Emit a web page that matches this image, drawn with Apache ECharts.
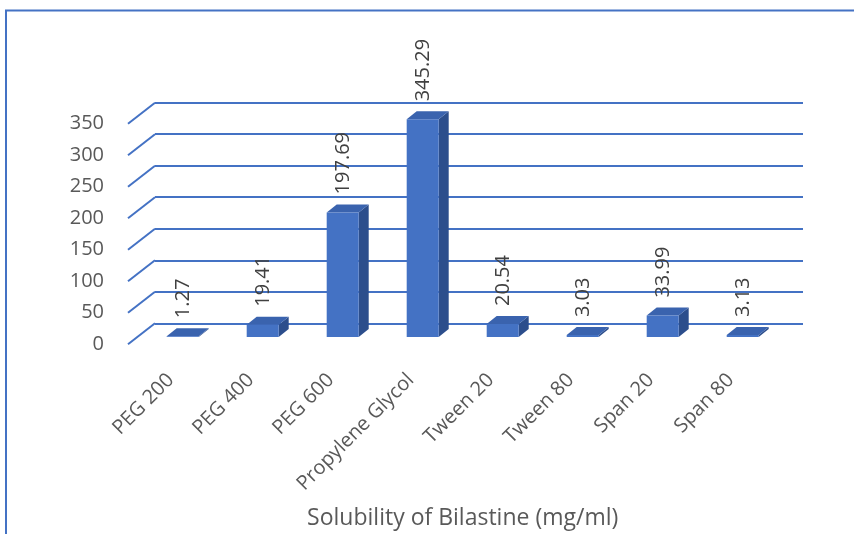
<!DOCTYPE html>
<html>
<head>
<meta charset="utf-8">
<script src="https://cdn.jsdelivr.net/npm/echarts@6/dist/echarts.min.js"></script>
<style>html,body{margin:0;padding:0;background:#fff}#c{width:854px;height:534px}</style>
</head>
<body>
<div id="c"></div>
<script>
var categories = ['PEG 200', 'PEG 400', 'PEG 600', 'Propylene Glycol', 'Tween 20', 'Tween 80', 'Span 20', 'Span 80'];
var solubility = [1.27, 19.41, 197.69, 345.29, 20.54, 3.03, 33.99, 3.13];
var yTicks = [0, 50, 100, 150, 200, 250, 300, 350];
var axisTitle = 'Solubility of Bilastine (mg/ml)';

var BLUE = '#4472C4';
var DEPTH_X = 10, DEPTH_Y = -8, BAR_W = 32;
var DIAG_X = -27, DIAG_Y = 21;

var chart = echarts.init(document.getElementById('c'), null, {renderer: 'canvas'});

function bar3d(params, api) {
  var top = api.coord([api.value(0), api.value(1)]);
  var base = api.coord([api.value(0), 0]);
  var cx = top[0], ty = top[1], by = base[1];
  var l = cx - BAR_W / 2, r = cx + BAR_W / 2;
  return {
    type: 'group',
    children: [
      {type: 'polygon', shape: {points: [[r, ty], [r + DEPTH_X, ty + DEPTH_Y], [r + DEPTH_X, by + DEPTH_Y], [r, by]]},
        style: {fill: '#2C4E8C'}},
      {type: 'polygon', shape: {points: [[l, ty], [l + DEPTH_X, ty + DEPTH_Y], [r + DEPTH_X, ty + DEPTH_Y], [r, ty]]},
        style: {fill: '#3A63AE'}},
      {type: 'rect', shape: {x: l, y: ty, width: BAR_W, height: Math.max(by - ty, 0.5)},
        style: {fill: BLUE}},
      {type: 'text', x: cx + 1, y: ty + DEPTH_Y - 10, rotation: Math.PI / 2,
        style: {text: String(api.value(1)), fill: '#404040', font: '20px "Open Sans"',
          textAlign: 'left', textVerticalAlign: 'middle'}}
    ]
  };
}

function diag(params, api) {
  var p = api.coord([0, api.value(0)]);
  return {
    type: 'line',
    shape: {x1: p[0], y1: p[1], x2: p[0] + DIAG_X, y2: p[1] + DIAG_Y},
    style: {stroke: BLUE, lineWidth: 2}
  };
}

var option = {
  backgroundColor: '#fff',
  animation: false,
  graphic: [{
    type: 'rect', shape: {x: 6, y: 10.5, width: 900, height: 600},
    style: {fill: 'none', stroke: BLUE, lineWidth: 2}, silent: true
  }],
  grid: [
    {left: 155, right: 51, top: 102.7, bottom: 210.7, outerBoundsMode: 'none', containLabel: false},
    {left: 128, right: 78, top: 123.7, bottom: 189.7, outerBoundsMode: 'none', containLabel: false},
    {left: 142.7, right: 71.3, top: 116.4, bottom: 197, outerBoundsMode: 'none', containLabel: false},
    {left: 130.7, right: 83.3, top: 116.4, bottom: 197, outerBoundsMode: 'none', containLabel: false}
  ],
  xAxis: [
    {gridIndex: 0, type: 'value', min: 0, max: 1, show: false},
    {gridIndex: 1, type: 'value', min: 0, max: 1, show: false},
    {gridIndex: 2, type: 'category', data: categories,
      axisLine: {show: false}, axisTick: {show: false}, splitLine: {show: false},
      axisLabel: {show: false},
      name: axisTitle, nameLocation: 'middle', nameGap: 170,
      nameTextStyle: {color: '#595959', fontSize: 23, fontFamily: 'Open Sans'}},
    {gridIndex: 3, type: 'category', data: categories,
      axisLine: {show: false}, axisTick: {show: false}, splitLine: {show: false},
      axisLabel: {rotate: 45, margin: 40, color: '#595959', fontSize: 20, fontFamily: 'Open Sans', interval: 0}}
  ],
  yAxis: [
    {gridIndex: 0, type: 'value', min: 0, max: 350, interval: 50,
      axisLine: {show: false}, axisTick: {show: false}, axisLabel: {show: false},
      splitLine: {show: true, lineStyle: {color: BLUE, width: 2}}},
    {gridIndex: 1, type: 'value', min: 0, max: 350, interval: 50,
      axisLine: {show: false}, axisTick: {show: false}, splitLine: {show: false},
      axisLabel: {margin: 24, color: '#595959', fontSize: 20, fontFamily: 'Open Sans',
        formatter: function (v) { return yTicks.indexOf(v) >= 0 ? String(v) : ''; }}},
    {gridIndex: 2, type: 'value', min: 0, max: 350, show: false},
    {gridIndex: 3, type: 'value', min: 0, max: 350, show: false}
  ],
  series: [
    {type: 'custom', xAxisIndex: 0, yAxisIndex: 0, data: yTicks.map(function (v) { return [v]; }),
      encode: {y: 0}, renderItem: diag, z: 1, silent: true},
    {type: 'custom', xAxisIndex: 2, yAxisIndex: 2,
      data: categories.map(function (c, i) { return [i, solubility[i]]; }),
      encode: {x: 0, y: 1}, renderItem: bar3d, z: 5, clip: false}
  ]
};
chart.setOption(option);
</script>
</body>
</html>
